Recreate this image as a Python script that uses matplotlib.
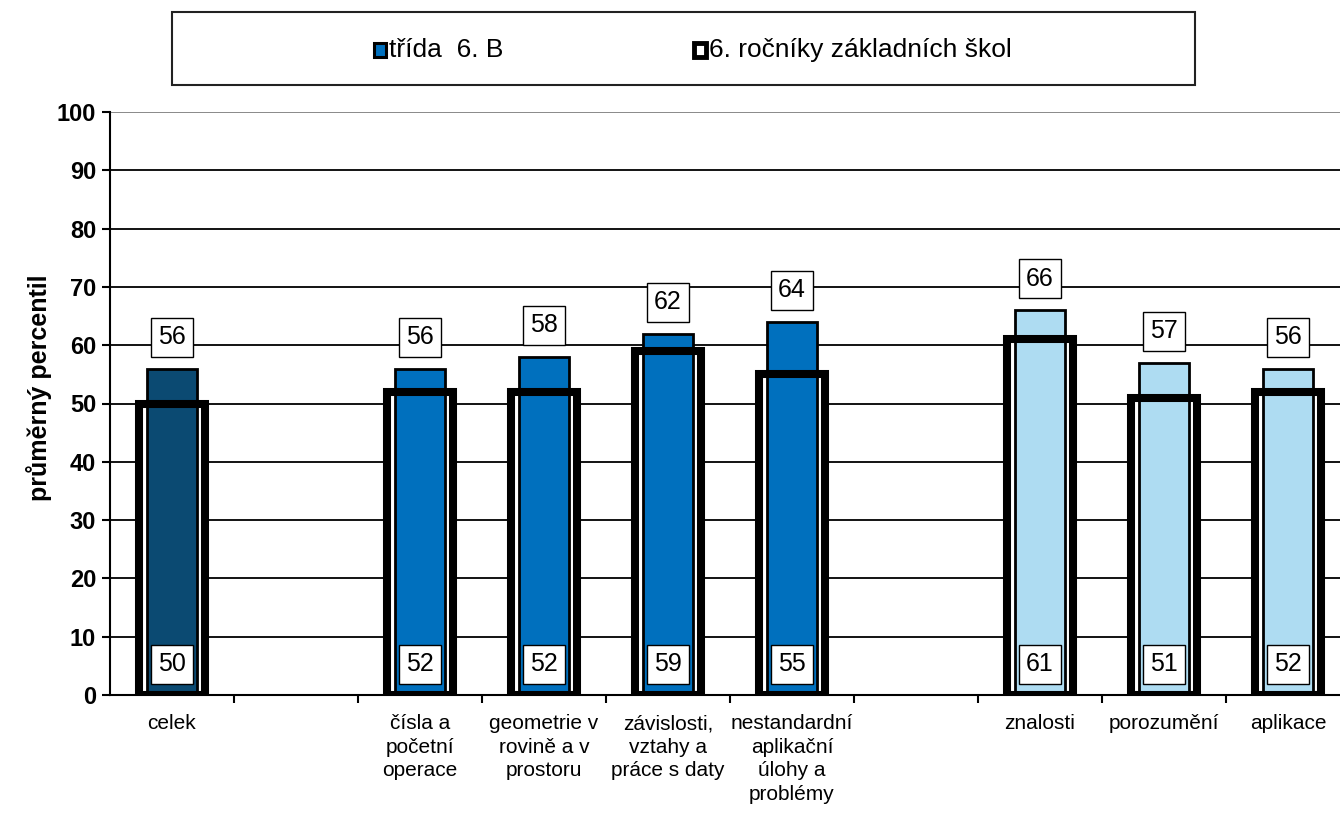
import matplotlib.pyplot as plt
from matplotlib.patches import Rectangle

# data
categories = ["celek",
              "čísla a\npočetní\noperace",
              "geometrie v\nrovině a v\nprostoru",
              "závislosti,\nvztahy a\npráce s daty",
              "nestandardní\naplikační\núlohy a\nproblémy",
              "znalosti", "porozumění", "aplikace"]
trida = [56, 56, 58, 62, 64, 66, 57, 56]        # třída 6. B
rocniky = [50, 52, 52, 59, 55, 61, 51, 52]      # 6. ročníky základních škol
groups = ["celek", "obsah", "obsah", "obsah", "obsah", "kog", "kog", "kog"]

series_names = ["třída  6. B", "6. ročníky základních škol"]
ylabel = "průměrný percentil"

# layout: two empty slots between the groups
slots = [0, 2, 3, 4, 5, 7, 8, 9]
group_colors = {"celek": "#0B4A72", "obsah": "#0070BE", "kog": "#AEDCF2"}

plt.rcParams['font.family'] = ['Liberation Sans', 'DejaVu Sans']

W, H = 1340, 818
fig = plt.figure(figsize=(W / 100, H / 100), dpi=100)
ax = fig.add_axes([110 / W, 1 - 695 / H, 1240 / W, 583 / H])

colors = [group_colors[g] for g in groups]

# national bars: white body, inner class bar, thick outline on top
ax.bar(slots, rocniky, width=0.53, color="white", edgecolor="none", zorder=2)
ax.bar(slots, trida, width=0.40, color=colors, edgecolor="black", linewidth=2.0, zorder=3)
ax.bar(slots, rocniky, width=0.53, fill=False, edgecolor="black", linewidth=5.8, zorder=4)

box = dict(boxstyle="square,pad=0.3", fc="white", ec="black", lw=1.0)
for x, t, r in zip(slots, trida, rocniky):
    ax.text(x, t + 5.4, str(t), ha="center", va="center", fontsize=18,
            bbox=box, zorder=6)
    ax.text(x, 5.3, str(r), ha="center", va="center", fontsize=18,
            bbox=box, zorder=6)

ax.set_xlim(-0.5, 9.5)
ax.set_ylim(0, 100)
ax.set_yticks(range(0, 101, 10))
ax.yaxis.grid(True, color="black", linewidth=1.3)
ax.set_axisbelow(True)
ax.get_ygridlines()[-1].set_color("#808080")

ax.set_xticks(slots)
ax.set_xticklabels(categories, fontsize=15, linespacing=1.3)
ax.set_xticks([k + 0.5 for k in range(9)], minor=True)
ax.tick_params(axis="x", which="major", length=0, pad=14)
ax.tick_params(axis="x", which="minor", length=6, width=1.5, direction="out")
ax.tick_params(axis="y", length=6, width=1.5, direction="out", pad=4)
for lab in ax.get_yticklabels():
    lab.set_fontweight("bold")
    lab.set_fontsize(17)

for s in ["top", "right"]:
    ax.spines[s].set_visible(False)
for s in ["left", "bottom"]:
    ax.spines[s].set_linewidth(1.5)

ax.set_ylabel(ylabel, fontsize=18, fontweight="bold")
ax.yaxis.set_label_coords(-0.047, 0.527)

# legend box
fig.patches.append(Rectangle((172 / W, 1 - 85 / H), 1023 / W, 73 / H,
                             transform=fig.transFigure, fill=False,
                             edgecolor="#222222", linewidth=1.5))
fig.patches.append(Rectangle((374 / W, 1 - 57 / H), 12 / W, 14 / H,
                             transform=fig.transFigure, facecolor=group_colors["obsah"],
                             edgecolor="black", linewidth=2.2))
fig.text(389 / W, 1 - 50 / H, series_names[0], fontsize=19, va="center", ha="left")
fig.patches.append(Rectangle((694 / W, 1 - 57 / H), 12 / W, 14 / H,
                             transform=fig.transFigure, facecolor="white",
                             edgecolor="black", linewidth=3.5))
fig.text(709 / W, 1 - 50 / H, series_names[1], fontsize=19, va="center", ha="left")

fig.savefig("out.png", dpi=100)
